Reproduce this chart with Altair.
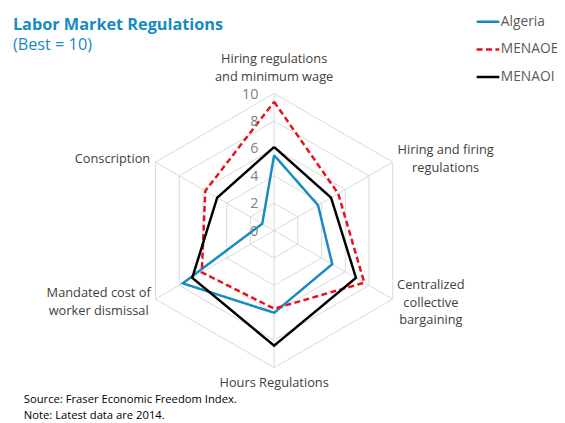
import altair as alt
import pandas as pd

# ---- data ----
categories = [
    "Hiring regulations and minimum wage",
    "Hiring and firing regulations",
    "Centralized collective bargaining",
    "Hours Regulations",
    "Mandated cost of worker dismissal",
    "Conscription",
]
algeria = [5.5, 3.7, 4.9, 6.0, 7.7, 1.0]
menaoe = [9.4, 5.4, 7.6, 5.7, 6.1, 5.8]
menaoi = [6.1, 4.8, 6.9, 8.4, 6.9, 4.8]
series_names = ["Algeria", "MENAOE", "MENAOI"]
series_values = [algeria, menaoe, menaoi]
series_colors = ["#168bbf", "#e5121b", "#000000"]
series_dash = [[1, 0], [6, 3.5], [1, 0]]
grid_levels = [2, 4, 6, 8, 10]
tick_values = [0, 2, 4, 6, 8, 10]
tick_labels = ["0", "2", "4", "6", "8", "10"]

# category label lines (layout)
cat_label_lines = [
    ["Hiring regulations", "and minimum wage"],
    ["Hiring and firing", "regulations"],
    ["Centralized", "collective", "bargaining"],
    ["Hours Regulations"],
    ["Mandated cost of", "worker dismissal"],
    ["Conscription"],
]
# layout: anchor (page px) of first line centre for each category label
cat_label_pos = [(278, 57), (452, 149), (437, 286), (278, 385), (100, 294), (114, 158)]
LINE_H = 18

# ---- geometry ----
W, H = 557, 415
cx, cy = 278 - 8, 230.8 - 8
ppu = 13.9  # pixels per unit
xdom = [-cx / ppu, (W - cx) / ppu]
ydom = [-(H - cy) / ppu, cy / ppu]
xs = alt.Scale(domain=xdom, nice=False, zero=False)
ys = alt.Scale(domain=ydom, nice=False, zero=False)

FONT = "Open Sans"

# series table (closed polygons)
rows = []
for name, vals in zip(series_names, series_values):
    n = len(vals)
    for i in range(n + 1):
        rows.append({"series": name, "idx": i, "value": vals[i % n]})
sdf = pd.DataFrame(rows)

grid_rows = []
for lv in grid_levels:
    for i in range(len(categories) + 1):
        grid_rows.append({"level": lv, "idx": i})
gdf = pd.DataFrame(grid_rows)

spoke_df = pd.DataFrame({"idx": list(range(len(categories))), "r": [10] * len(categories)})
tick_df = pd.DataFrame({"v": tick_values, "label": tick_labels, "zero": [0] * len(tick_values)})

lab_rows = []
for lines, (px, py) in zip(cat_label_lines, cat_label_pos):
    for j, t in enumerate(lines):
        lab_rows.append({"text": t, "px": px - 8, "py": py - 8 + j * LINE_H})
ldf = pd.DataFrame(lab_rows)

grid = alt.Chart(gdf).transform_calculate(
    x="datum.level*sin(datum.idx*PI/3)", y="datum.level*cos(datum.idx*PI/3)"
).mark_line(color="#d9d9d9", strokeWidth=1).encode(
    x=alt.X("x:Q", scale=xs, axis=None),
    y=alt.Y("y:Q", scale=ys, axis=None),
    detail="level:N",
    order="idx:Q",
)

spokes = alt.Chart(spoke_df).transform_calculate(
    x="0", y="0",
    x2="datum.r*sin(datum.idx*PI/3)", y2="datum.r*cos(datum.idx*PI/3)",
).mark_rule(color="#d9d9d9", strokeWidth=1).encode(
    x=alt.X("x:Q", scale=xs, axis=None),
    y=alt.Y("y:Q", scale=ys, axis=None),
    x2="x2:Q",
    y2="y2:Q",
)

ticks = alt.Chart(tick_df).mark_text(
    align="right", baseline="middle", dx=-16, dy=1, fontSize=14.5, color="#7f7f7f", font=FONT
).encode(
    x=alt.X("zero:Q", scale=xs, axis=None),
    y=alt.Y("v:Q", scale=ys, axis=None),
    text="label:N",
)

lines = alt.Chart(sdf).transform_calculate(
    x="datum.value*sin(datum.idx*PI/3)", y="datum.value*cos(datum.idx*PI/3)"
).mark_line(strokeWidth=2.5, strokeJoin="miter").encode(
    x=alt.X("x:Q", scale=xs, axis=None),
    y=alt.Y("y:Q", scale=ys, axis=None),
    color=alt.Color(
        "series:N",
        scale=alt.Scale(domain=series_names, range=series_colors),
        legend=alt.Legend(
            title=None, orient="none", legendX=474, legendY=-2,
            symbolType="stroke", symbolSize=529, symbolStrokeWidth=2.5,
            labelFontSize=14, labelColor="#595959", labelFont=FONT,
            rowPadding=8, labelOffset=0, labelLimit=300,
        ),
    ),
    strokeDash=alt.StrokeDash(
        "series:N", scale=alt.Scale(domain=series_names, range=series_dash), legend=None
    ),
    order="idx:Q",
    detail="series:N",
)

cat_labels = alt.Chart(ldf).mark_text(
    align="center", baseline="middle", fontSize=13, color="#404040", font=FONT
).encode(
    x=alt.X("px:Q", scale=None),
    y=alt.Y("py:Q", scale=None),
    text="text:N",
)

title = alt.Chart(pd.DataFrame({"t": ["Labor Market Regulations"]})).mark_text(
    align="left", baseline="alphabetic", fontSize=16.5, fontWeight="bold", color="#168bbf", font=FONT
).encode(x=alt.value(5), y=alt.value(19), text="t:N")

subtitle = alt.Chart(pd.DataFrame({"t": ["(Best = 10)"]})).mark_text(
    align="left", baseline="alphabetic", fontSize=16.5, color="#168bbf", font=FONT
).encode(x=alt.value(5), y=alt.value(40), text="t:N")

notes = alt.Chart(pd.DataFrame({"t": ["Source: Fraser Economic Freedom Index.", "Note: Latest data are 2014."], "py": [395, 410.5]})).mark_text(
    align="left", baseline="middle", fontSize=11.4, color="#000000", font=FONT
).encode(x=alt.value(16), y=alt.Y("py:Q", scale=None), text="t:N")

chart = alt.layer(grid, spokes, lines, ticks, cat_labels, title, subtitle, notes).properties(
    width=W, height=H, padding=0, autosize=alt.AutoSizeParams(type="none"), background="white"
).configure_view(stroke=None)

chart.save("out.html", embed_options={"renderer": "svg", "actions": False})
